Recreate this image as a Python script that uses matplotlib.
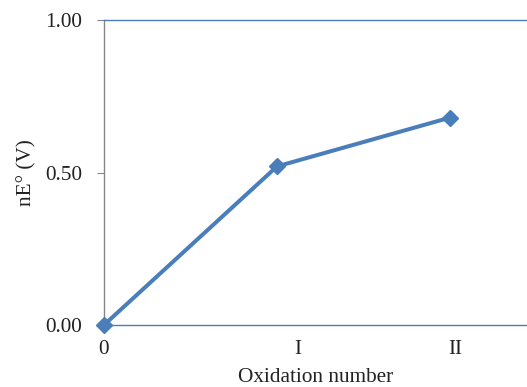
import matplotlib.pyplot as plt

plt.rcParams.update({
    'font.family': 'serif',
    'font.serif': ['Liberation Serif'],
    'font.size': 15.3,
})

# data
oxidation = [0, 1, 2]
nE = [0.00, 0.52, 0.68]
tick_pos = [0, 1.12, 2.03]
tick_labels = ['0', 'I', 'II']
y_ticks = [0.0, 0.5, 1.0]

C_LINE = '#4A7EBB'
C_AXIS = '#868686'

fig = plt.figure(figsize=(5.27, 3.87), dpi=100)
ax = fig.add_axes([0.1973, 0.1602, 0.8027, 0.7881])

ax.plot(oxidation, nE, color=C_LINE, lw=2.9, marker='D', markersize=8.5,
        clip_on=False, zorder=5)

ax.set_xlim(0, 2.445)
ax.set_ylim(0, 1.0)
ax.set_yticks(y_ticks)
ax.set_yticklabels([f'{v:.2f}' for v in y_ticks])
ax.set_xticks(tick_pos)
ax.set_xticklabels(tick_labels)

ax.spines['right'].set_visible(False)
ax.spines['top'].set_color(C_LINE)
ax.spines['bottom'].set_color(C_LINE)
ax.spines['left'].set_color(C_AXIS)
for s in ax.spines.values():
    s.set_linewidth(1.0)

ax.tick_params(axis='y', length=5, color=C_AXIS, pad=11, labelcolor='#222222')
ax.tick_params(axis='x', length=0, pad=11, labelcolor='#222222')

ax.set_xlabel('Oxidation number', labelpad=6, color='#222222')
ax.set_ylabel('nE° (V)', labelpad=6, color='#222222')

fig.savefig('out.png', dpi=100)
